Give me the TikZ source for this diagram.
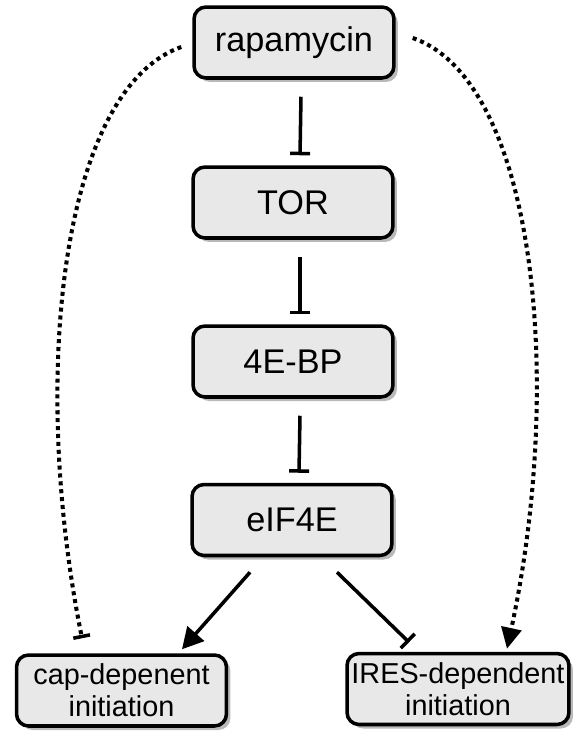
\documentclass[tikz,border=0pt]{standalone}
\usepackage{fontspec}
\setmainfont{Liberation Sans}
\usetikzlibrary{arrows.meta,shadows}
\tikzset{box/.style={draw,rounded corners=0.24cm,line width=2pt,fill=black!9,
        drop shadow={shadow xshift=0.08cm,shadow yshift=-0.08cm,fill=black!55}},
    protein/.style={box,minimum width=4cm,minimum height=1.42cm,
        font=\fontsize{19.5}{22}\selectfont},
    outcome/.style={box,align=center,inner sep=1pt,minimum height=1.42cm,
        font=\fontsize{16.4}{18.2}\selectfont},
    inhibit/.style={line width=2pt,-{Bar[width=0.4cm,line width=2pt]}},
    activate/.style={line width=2pt,-{Triangle[length=0.42cm,width=0.44cm]}},
    maybe/.style={line width=2.3pt,dash pattern=on 2.3pt off 2.2pt}}

\begin{document}
\begin{tikzpicture}[x=0.02cm,y=-0.02cm]
\useasboundingbox (0,0) rectangle (573,731);
% signalling chain
\node[protein] (rap) at (294,42.5) {rapamycin};
\node[protein] (tor) at (293,202.5) {TOR};
\node[protein] (bp) at (293,361.5) {4E-BP};
\node[protein] (eif) at (292,520) {eIF4E};
% translation
\node[outcome,minimum width=4.2cm] (cap) at (121.5,690.5) {cap-depenent\\initiation};
\node[outcome,minimum width=4.44cm] (ires) at (458,689) {IRES-dependent\\initiation};

\draw[inhibit] ([xshift=0.14cm,yshift=-0.34cm]rap.south) -- ([xshift=0.14cm,yshift=0.2cm]tor.north);
\draw[inhibit] ([xshift=0.14cm,yshift=-0.34cm]tor.south) -- ([xshift=0.14cm,yshift=0.2cm]bp.north);
\draw[inhibit] ([xshift=0.14cm,yshift=-0.34cm]bp.south) -- ([xshift=0.14cm,yshift=0.2cm]eif.north);
\draw[activate] ([xshift=-0.84cm,yshift=-0.3cm]eif.south) -- ([xshift=1.21cm,yshift=0.08cm]cap.north);
\draw[inhibit] ([xshift=0.9cm,yshift=-0.3cm]eif.south) -- ([xshift=-0.98cm,yshift=0.19cm]ires.north);
% direct effects of rapamycin
\draw[maybe,-{Bar[width=0.34cm,line width=2pt]}] ([xshift=-0.22cm,yshift=-0.09cm]rap.west)
    .. controls (60,90) and (30,380) .. ([xshift=-0.79cm,yshift=0.3cm]cap.north);
\draw[maybe,-{Triangle[length=0.42cm,width=0.4cm]}] ([xshift=0.34cm,yshift=0.09cm]rap.east)
    .. controls (535,80) and (565,380) .. ([xshift=0.98cm,yshift=0.06cm]ires.north);
\end{tikzpicture}
\end{document}
